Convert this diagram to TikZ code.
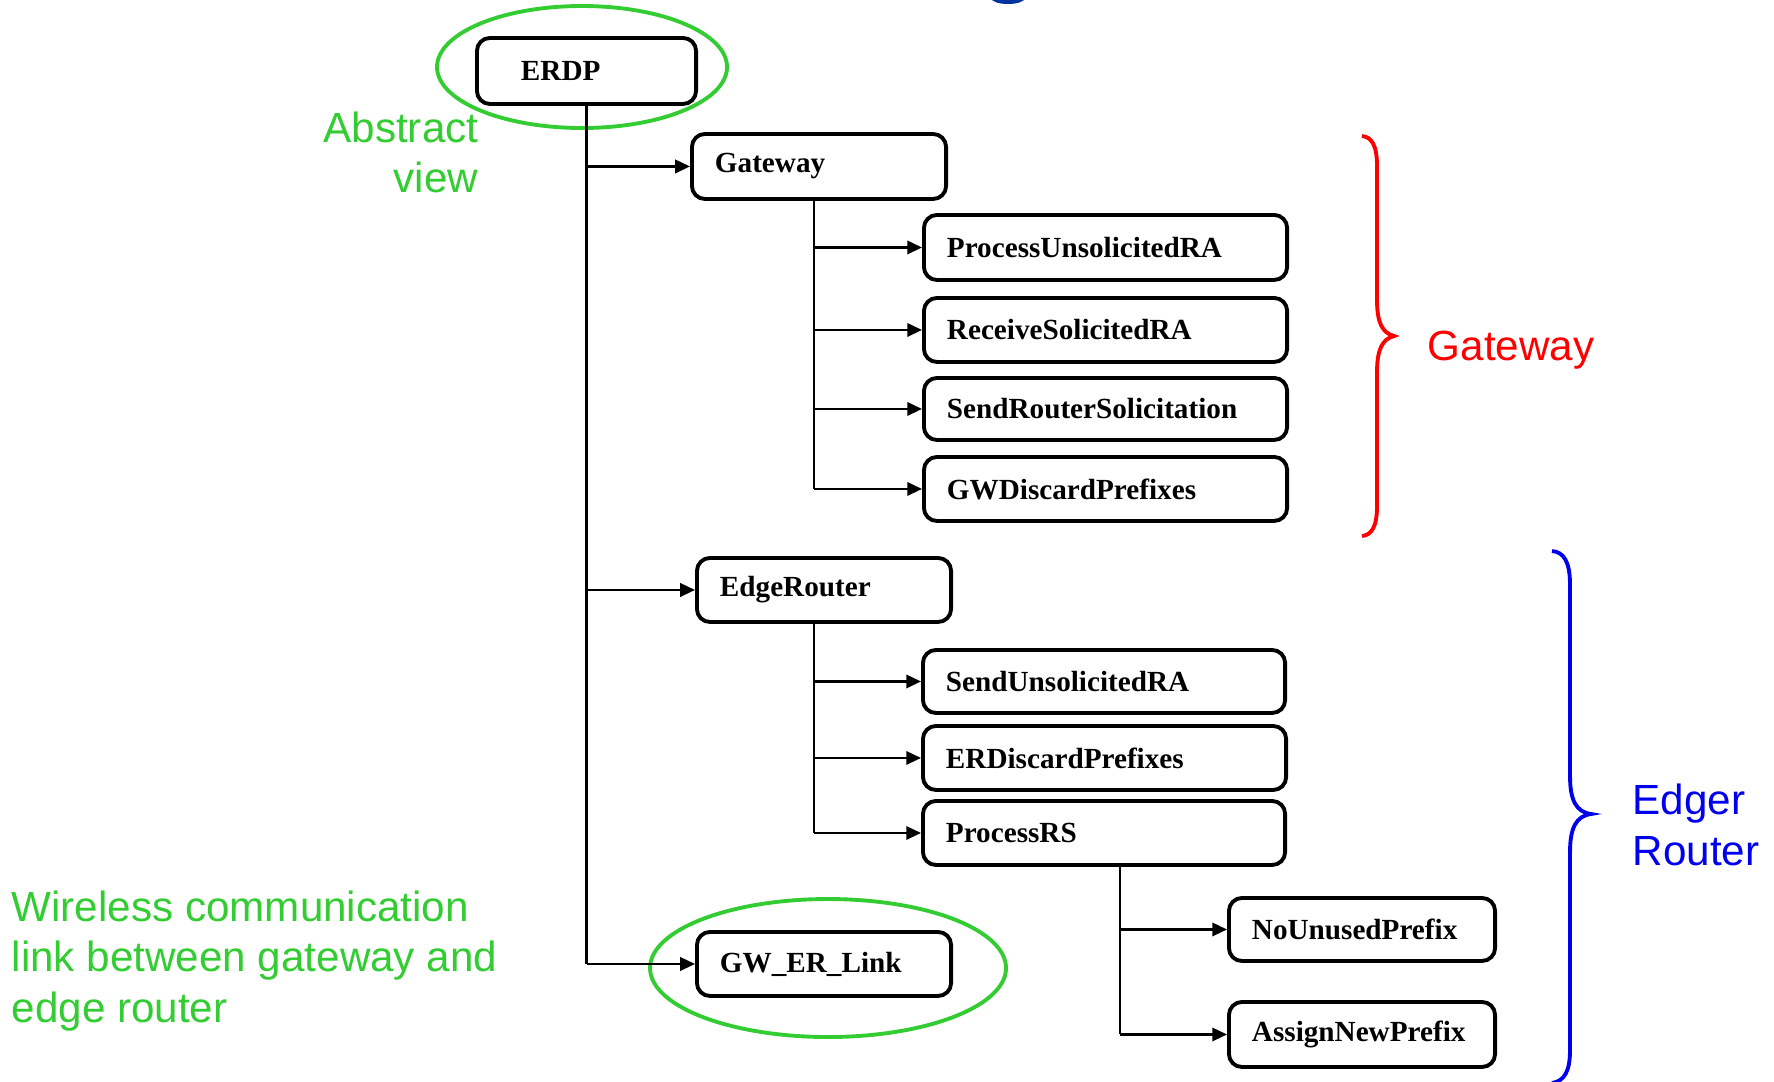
\documentclass[tikz,border=0pt]{standalone}
\usepackage{fontspec}
\usetikzlibrary{arrows.meta,calc}
\newfontfamily\labfont{Liberation Sans}
\newfontfamily\boxfont{Liberation Serif}
\definecolor{annogreen}{RGB}{51,204,51}
\definecolor{annored}{RGB}{255,0,0}
\definecolor{annoblue}{RGB}{0,0,238}
\definecolor{titleblue}{RGB}{0,51,160}
\tikzset{
  procbox/.style={draw, line width=1.1pt, rounded corners=0.13cm, anchor=north west,
    inner xsep=0.23cm, inner ysep=0pt, align=left, font=\boxfont\bfseries\fontsize{8.3}{10}\selectfont},
  conn/.style={line width=0.7pt},
  arr/.style={line width=0.7pt, -{Triangle[length=4.2pt,width=3.8pt]}},
  ring/.style={draw=annogreen, line width=1.1pt},
  anno/.style={font=\labfont\fontsize{12}{14.4}\selectfont, inner sep=0pt},
  bracepath/.style={line width=1.1pt}
}
\begin{document}
\begin{tikzpicture}[x=0.01cm,y=-0.01cm]
\useasboundingbox (0,0) rectangle (1774,1081);
% title fragment cut off at the top
\begin{scope}
\clip (0,0) rectangle (1774,1081);
\fill[titleblue] (1008,-2) ellipse [x radius=17, y radius=6];
\end{scope}

% nodes
\node[procbox, inner xsep=0.44cm, text width=1.31cm, minimum height=0.66cm] (erdp) at (475,36) {ERDP};
\node[procbox, text width=2.08cm, minimum height=0.65cm] (gw) at (690,132) {Gateway};
\node[procbox, text width=3.17cm, minimum height=0.65cm] (pura) at (922,213) {ProcessUnsolicitedRA};
\node[procbox, text width=3.17cm, minimum height=0.64cm] (rsra) at (922,296) {ReceiveSolicitedRA};
\node[procbox, text width=3.17cm, minimum height=0.62cm] (srs) at (922,376) {SendRouterSolicitation};
\node[procbox, text width=3.17cm, minimum height=0.64cm] (gwd) at (922,455) {GWDiscardPrefixes};
\node[procbox, text width=2.08cm, minimum height=0.64cm] (er) at (695,556) {EdgeRouter};
\node[procbox, text width=3.16cm, minimum height=0.63cm] (sura) at (921,648) {SendUnsolicitedRA};
\node[procbox, text width=3.17cm, minimum height=0.64cm] (erd) at (921,724) {ERDiscardPrefixes};
\node[procbox, text width=3.16cm, minimum height=0.64cm] (prs) at (921,799) {ProcessRS};
\node[procbox, text width=2.20cm, minimum height=0.63cm] (nup) at (1227,896) {NoUnusedPrefix};
\node[procbox, text width=2.20cm, minimum height=0.65cm] (anp) at (1227,1000) {AssignNewPrefix};
\node[procbox, text width=2.08cm, minimum height=0.64cm] (link) at (695,930) {GW\_ER\_Link};

% green rings
\draw[ring] (582,67) ellipse [x radius=145, y radius=61];
\draw[ring] (828,968) ellipse [x radius=178, y radius=69];

% trunk coordinates
\coordinate (t2) at (814,0);
\coordinate (t4) at (1120,0);

% connectors
\draw[conn] (erdp.south) -- (erdp.south |- link.west);
\draw[arr] (erdp.south |- gw.west) -- (gw.west);
\draw[arr] (erdp.south |- er.west) -- (er.west);
\draw[arr] (erdp.south |- link.west) -- (link.west);

\draw[conn] (gw.south -| t2) -- (t2 |- gwd.west);
\draw[arr] (t2 |- pura.west) -- (pura.west);
\draw[arr] (t2 |- rsra.west) -- (rsra.west);
\draw[arr] (t2 |- srs.west) -- (srs.west);
\draw[arr] (t2 |- gwd.west) -- (gwd.west);

\draw[conn] (er.south -| t2) -- (t2 |- prs.west);
\draw[arr] (t2 |- sura.west) -- (sura.west);
\draw[arr] (t2 |- erd.west) -- (erd.west);
\draw[arr] (t2 |- prs.west) -- (prs.west);

\draw[conn] (prs.south -| t4) -- (t4 |- anp.west);
\draw[arr] (t4 |- nup.west) -- (nup.west);
\draw[arr] (t4 |- anp.west) -- (anp.west);

% braces
\draw[bracepath, annored] (1362,136) .. controls (1372,137) and (1377,146) .. (1377,166)
  -- (1377,300) .. controls (1377,322) and (1382,333) .. (1394,336)
  .. controls (1382,339) and (1377,350) .. (1377,372)
  -- (1377,506) .. controls (1377,526) and (1372,535) .. (1362,536);
\draw[bracepath, annoblue] (1552,551) .. controls (1564,552) and (1570,562) .. (1570,585)
  -- (1570,776) .. controls (1570,800) and (1576,812) .. (1591,814)
  .. controls (1576,816) and (1570,828) .. (1570,852)
  -- (1570,1050) .. controls (1570,1072) and (1564,1081) .. (1552,1083);

% annotations
\node[anno, anchor=base east, text=annogreen] (abs1) at (479,142) {Abstract};
\node[anno, anchor=base east, text=annogreen] (abs2) at (479,192) {view};
\node[anno, anchor=base west, text=annogreen] (wl1) at (11,921) {Wireless communication};
\node[anno, anchor=base west, text=annogreen] (wl2) at (11,971) {link between gateway and};
\node[anno, anchor=base west, text=annogreen] (wl3) at (11,1022) {edge router};
\node[anno, anchor=base west, text=annored] (gwlab) at (1427,360) {Gateway};
\node[anno, anchor=base west, text=annoblue] (erlab1) at (1632,814) {Edger};
\node[anno, anchor=base west, text=annoblue] (erlab2) at (1632,865) {Router};
\end{tikzpicture}
\end{document}
